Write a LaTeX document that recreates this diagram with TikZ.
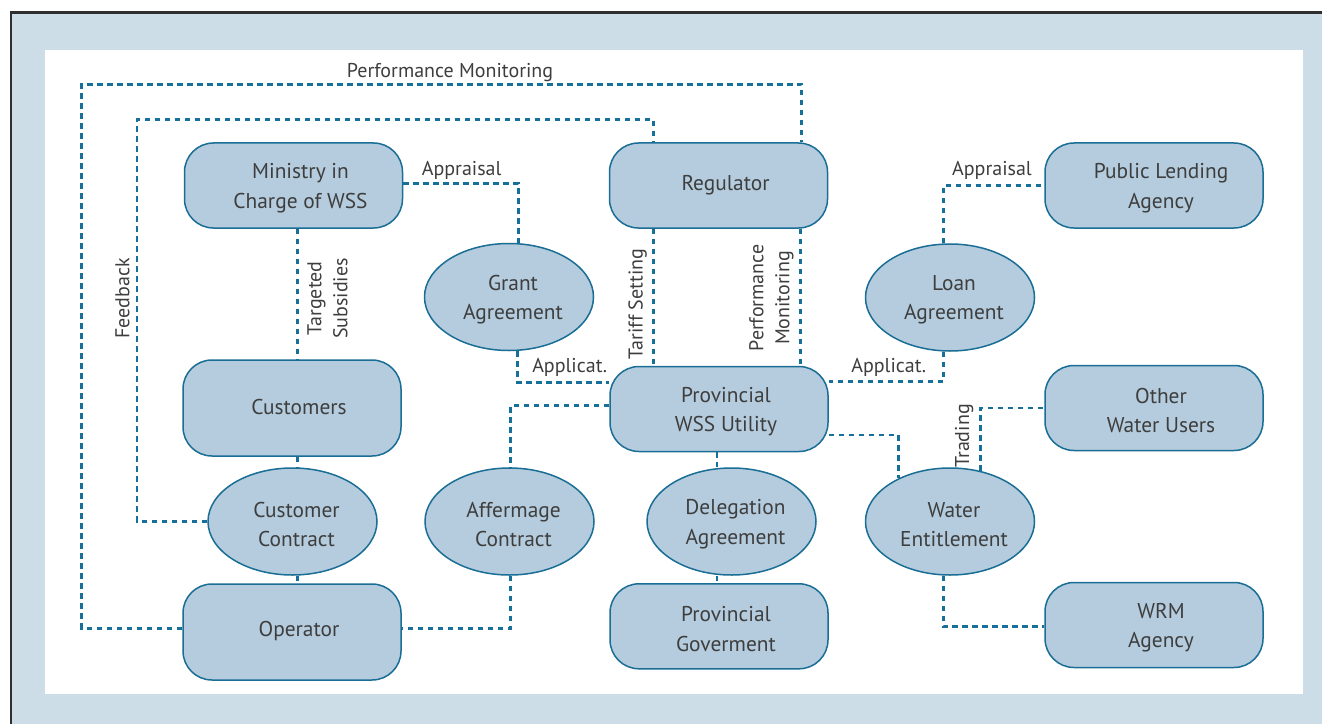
\documentclass[tikz,border=0pt]{standalone}
\usepackage{fontspec}
\setmainfont{PT Sans}
\usetikzlibrary{shapes.geometric}
\definecolor{framebg}{HTML}{CDDDE8}
\definecolor{frameline}{HTML}{2F2F2F}
\definecolor{nodefill}{HTML}{B4CCDD}
\definecolor{nodeline}{HTML}{1A6E95}
\definecolor{linkcol}{HTML}{16709A}
\definecolor{txt}{HTML}{3E3E3E}

\begin{document}
\begin{tikzpicture}[x=1bp,y=-1bp,
  box/.style={draw=nodeline, fill=nodefill, line width=1.5bp, rounded corners=29bp,
    minimum width=218bp, minimum height=85bp, inner sep=0pt},
  tallbox/.style={box, minimum height=96bp},
  oval/.style={ellipse, draw=nodeline, fill=nodefill, line width=1.5bp,
    minimum width=169bp, minimum height=107bp, inner sep=0pt},
  ntext/.style={align=center, font=\fontsize{21.4bp}{29.1bp}\selectfont, text=txt, inner sep=0pt},
  btxt/.style={label={[ntext, xshift=7bp, yshift=-2.7bp]center:#1}},
  bone/.style={label={[ntext, xshift=7bp, yshift=1.3bp]center:#1}},
  otxt/.style={label={[ntext, xshift=4bp, yshift=-2.7bp]center:#1}},
  lbl/.style={font=\fontsize{20bp}{26bp}\selectfont, text=txt, inner sep=0pt},
  link/.style={draw=linkcol, line width=2.7bp, dash pattern=on 5.6bp off 4.4bp},
]
% page, frame and white panel (the frame runs on past the right and bottom edges)
\useasboundingbox (0,0) rectangle (1322,723);
\fill[white] (-10,-10) rectangle (1340,740);
\fill[framebg] (11,12.5) rectangle (1340,740);
\draw[frameline, line width=2.5bp] (11,740) -- (11,12.5) -- (1340,12.5);
\fill[white] (45,50) rectangle (1303,694);

% actors
\node[box, btxt={Ministry in\\Charge of WSS}] (min) at (293.5,185.5) {};
\node[box, label={[ntext, xshift=7bp]center:Regulator}] (reg) at (718.5,185.5) {};
\node[box, btxt={Public Lending\\Agency}] (pla) at (1154,185.5) {};
\node[tallbox, bone={Customers}] (cust) at (292,408) {};
\node[box, btxt={Provincial\\WSS Utility}] (util) at (719,409) {};
\node[box, btxt={Other\\Water Users}] (other) at (1154,408) {};
\node[tallbox, bone={Operator}] (op) at (292,632) {};
\node[box, btxt={Provincial\\Goverment}] (gov) at (719,626.3) {};
\node[box, btxt={WRM\\Agency}] (wrm) at (1154,625) {};

% agreements
\node[oval, otxt={Grant\\Agreement}] (grant) at (509,297) {};
\node[oval, otxt={Loan\\Agreement}] (loan) at (950,297.5) {};
\node[oval, otxt={Customer\\Contract}] (cc) at (292.5,521.5) {};
\node[oval, otxt={Affermage\\Contract}] (aff) at (509.5,521.5) {};
\node[oval, otxt={Delegation\\Agreement}] (del) at (731.5,521.5) {};
\node[oval, otxt={Water\\Entitlement}] (we) at (950,521.5) {};

% relations
\draw[link] (op.west |- 0,628.3) -| (81.7,84.3) -| (reg.north -| 801.7,0);
\draw[link] (cc.west) -| (137,119.3) -| (reg.north -| 653.3,0);
\draw[link] (min.east |- 0,183.3) -| (grant.north -| 518.3,0);
\draw[link] (grant.south -| 517.7,0) |- (util.west |- 0,382.5);
\draw[link] (reg.south -| 653.3,0) -- (util.north -| 653.3,0);
\draw[link] (reg.south -| 800.7,0) -- (util.north -| 800.7,0);
\draw[link] (loan.south -| 943.3,0) |- (util.east |- 0,381.7);
\draw[link] (loan.north -| 943.3,0) |- (pla.west);
\draw[link] (min.south -| 297.7,0) -- (cust.north -| 297.7,0);
\draw[link] (cust.south -| 297.7,0) -- (cc.north -| 297.7,0);
\draw[link] (cc.south -| 297.7,0) -- (op.north -| 297.7,0);
\draw[link] (util.west |- 0,405.7) -| (aff.north -| 510.7,0);
\draw[link] (aff.south -| 510.7,0) |- (op.east |- 0,628.3);
\draw[link] (util.south -| 717,0) -- (del.north -| 717,0);
\draw[link] (del.south -| 717,0) -- (gov.north -| 717,0);
\draw[link] (util.east |- 0,435) -| (we.140);
\draw[link] (we.59) |- (other.west);
\draw[link] (we.south -| 943.3,0) |- (wrm.west |- 0,626.7);

% relation labels
\node[lbl, anchor=base] (lpm) at (450,78) {Performance Monitoring};
\node[lbl, anchor=base] (lapl) at (461.7,175.7) {Appraisal};
\node[lbl, anchor=base] (lapr) at (992,175.7) {Appraisal};
\node[lbl, anchor=base] (lacl) at (569.7,372.7) {Applicat.};
\node[lbl, anchor=base] (lacr) at (888.8,372.7) {Applicat.};
\node[lbl, rotate=90, anchor=base] (lfb) at (129.3,298.3) {Feedback};
\node[lbl, rotate=90, anchor=base] (lts) at (642.7,304) {Tariff Setting};
\node[lbl, rotate=90, align=center] (lpm2) at (771.5,298) {Performance\\Monitoring};
\node[lbl, rotate=90, align=center] (lsub) at (327.5,298.5) {Targeted\\Subsidies};
\node[lbl, rotate=90, anchor=base] (ltr) at (969,436) {Trading};
\end{tikzpicture}
\end{document}
